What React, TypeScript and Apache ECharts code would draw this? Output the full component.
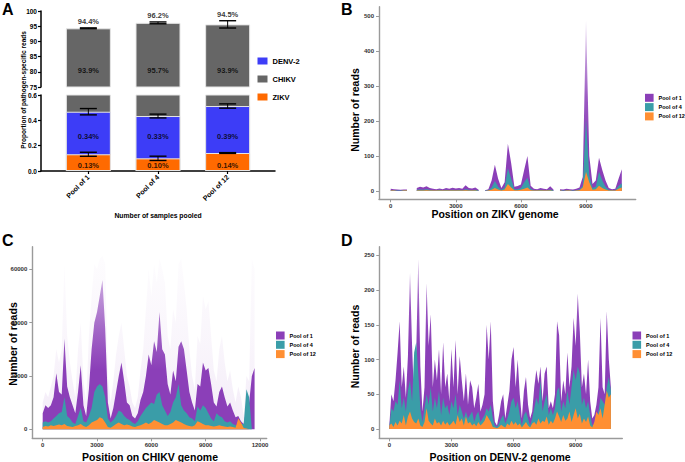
import React, { useEffect, useRef } from "react";
import * as echarts from "echarts";

// ---------- Panel A data ----------
const categories = ["Pool of 1", "Pool of 4", "Pool of 12"];
const zikvMean = [0.132, 0.1, 0.142];
const zikvErr = [0.016, 0.017, 0.003];
const denvMean = [0.336, 0.334, 0.371];
const denvTopErr = [0.025, 0.015, 0.017];
const chikvMean = [93.9, 95.7, 93.9];
const totalMean = [94.3, 96.1, 95.6];
const totalErr = [0.15, 0.3, 1.2];
const zikvLabels = ["0.13%", "0.10%", "0.14%"];
const denvLabels = ["0.34%", "0.33%", "0.39%"];
const chikvLabels = ["93.9%", "95.7%", "93.9%"];
const totalLabels = ["94.4%", "96.2%", "94.5%"];
const poolNames = ["Pool of 1", "Pool of 4", "Pool of 12"];

// ---------- Panel B (ZIKV), positions every 150 nt from 0 ----------
const zikvStep = 150;
const zikvPool1 = [6, 5, 4, 3, 4, 4, null, null, 8, 12, 10, 13, 8, 6, 5, 7, 5, 8, 6, 9, 7, 8, 6, 16, 8, 7, 10, 3, null, 2, 5, 30, 75, 35, 8, 25, 135, 80, 12, 14, 18, 60, 100, 15, 6, 5, 8, 6, 5, 13, 4, null, 5, 4, 6, 5, 4, 6, 10, 40, 490, 100, 20, 30, 95, 60, 30, 8, 5, 6, 35, 62];
const zikvPool4 = [2, 2, 1, 1, 2, 2, null, null, 3, 4, 3, 5, 3, 2, 2, 3, 2, 3, 2, 3, 2, 3, 2, 5, 3, 2, 3, 1, null, 1, 2, 10, 28, 12, 3, 10, 65, 35, 5, 5, 8, 25, 38, 6, 2, 2, 3, 2, 2, 4, 1, null, 2, 1, 2, 2, 1, 2, 4, 15, 205, 45, 8, 12, 55, 30, 12, 3, 2, 2, 14, 22];
const zikvPool12 = [1, 1, 0, 0, 1, 1, null, null, 1, 1, 1, 2, 1, 1, 1, 1, 1, 1, 1, 1, 1, 1, 1, 2, 1, 1, 1, 0, null, 0, 1, 3, 8, 4, 1, 4, 20, 10, 2, 2, 3, 6, 10, 2, 1, 1, 1, 1, 1, 1, 0, null, 1, 0, 1, 1, 0, 1, 2, 10, 55, 25, 3, 5, 15, 8, 4, 1, 1, 1, 6, 10];

// ---------- Panel C (CHIKV), positions every 150 nt from 0 ----------
const chikvStep = 150;
const chikvPool1 = [6000, 9000, 8000, 9000, 12000, 21000, 14000, 13000, 34000, 16000,
  12000, 9000, 6000, 14000, 24000, 9000, 5000, 15000, 30000, 40000,
  44000, 50000, 56000, 38000, 10000, 4000, 8000, 14000, 20000, 25000,
  18000, 10000, 9000, 5000, 4000, 6000, 11000, 14000, 20000, 28000,
  24000, 33000, 29000, 44000, 30000, 28000, 17000, 13000, 22000, 18000,
  31000, 33000, 30000, 22000, 14000, 10000, 7000, 17000, 16000, 25000,
  22000, 23000, 17000, 10000, 8500, 14000, 16000, 12000, 8500, 10000,
  7000, 4500, 5000, 3000, 2000, 8000, 10000, 20000, 23000];
const chikvPool1Peak = [10000, 14000, 12000, 16000, 20000, 30000, 25000, 30000, 62000, 35000,
  25000, 18000, 12000, 30000, 40000, 18000, 10000, 35000, 50000, 62000,
  60000, 64000, 65000, 62000, 20000, 10000, 18000, 28000, 35000, 40000,
  30000, 20000, 16000, 10000, 8000, 12000, 22000, 30000, 45000, 60000,
  50000, 62000, 55000, 64000, 60000, 55000, 35000, 30000, 45000, 40000,
  62000, 64000, 55000, 45000, 30000, 20000, 15000, 35000, 32000, 50000,
  45000, 48000, 35000, 22000, 18000, 30000, 35000, 25000, 18000, 22000,
  15000, 10000, 16000, 12000, 5000, 20000, 18000, 64000, 60000];
const chikvPool4 = [2500, 3000, 2500, 3000, 4000, 5000, 6000, 6500, 12000, 5000,
  4000, 2500, 2000, 5000, 8000, 3000, 2500, 5000, 8000, 14000,
  16000, 17000, 16000, 12000, 4000, 2500, 3500, 5000, 7000, 6500,
  5000, 4000, 3500, 2500, 2000, 3000, 5000, 6500, 8000, 9000,
  10000, 9500, 13000, 14000, 9000, 7000, 5000, 6500, 10000, 12000,
  17000, 9000, 7000, 6000, 4500, 4000, 3000, 8500, 7000, 9000,
  8000, 6000, 4000, 3000, 6000, 5000, 4500, 3000, 2500, 3000,
  2000, 1500, 1500, 2000, 2000, 15000, 12000, 0, 0];
const chikvPool12 = [800, 1200, 1000, 1500, 1200, 1500, 1800, 1500, 2000, 1200,
  1000, 800, 1200, 1500, 2000, 1200, 800, 1500, 2500, 3000,
  3500, 4500, 4000, 2500, 800, 600, 1200, 2000, 2500, 2000,
  1500, 1800, 1500, 1000, 800, 1200, 1500, 2000, 2500, 2000,
  2500, 3500, 3000, 2500, 2000, 1500, 1500, 2000, 2500, 3500,
  3000, 2500, 2000, 1500, 1200, 1000, 1500, 3000, 2500, 2000,
  1500, 1500, 1200, 1000, 1200, 1500, 1200, 1000, 800, 1000,
  800, 600, 4000, 2500, 500, 300, 0, 0, 0];

// ---------- Panel D (DENV-2), positions every 100 nt from 0 ----------
const denvStep = 100;
const denvPool1 = [5, 50, 40, 70, 110, 155, 60, 90, 45, 105,
  225, 120, 40, 110, 245, 90, 25, 60, 210, 120,
  165, 60, 100, 70, 115, 50, 125, 60, 80, 40,
  115, 60, 128, 50, 105, 70, 40, 80, 35, 70,
  60, 30, 45, 65, 25, 35, 50, 150, 100, 155,
  40, 10, 5, 20, 40, 50, 15, 35, 55, 100,
  118, 60, 100, 50, 15, 55, 75, 35, 15, 25,
  60, 85, 65, 90, 40, 80, 90, 30, 40, 30,
  50, 155, 135, 40, 70, 50, 110, 60, 90, 160,
  120, 195, 140, 60, 80, 50, 100, 40, 15, 20,
  35, 60, 160, 60, 50, 170, 100, 60];
const denvPool4 = [3, 30, 25, 40, 35, 70, 30, 45, 25, 55,
  70, 40, 110, 125, 80, 30, 10, 30, 50, 35,
  60, 25, 45, 30, 55, 20, 45, 30, 35, 20,
  40, 30, 50, 20, 35, 25, 15, 25, 15, 20,
  25, 10, 20, 25, 10, 15, 20, 30, 25, 35,
  15, 5, 3, 8, 15, 20, 8, 15, 25, 40,
  45, 30, 40, 20, 5, 20, 25, 15, 5, 15,
  30, 45, 35, 70, 25, 40, 50, 20, 30, 20,
  30, 55, 60, 25, 40, 30, 55, 35, 60, 85,
  70, 90, 80, 35, 45, 30, 40, 20, 5, 8,
  15, 25, 45, 40, 35, 60, 75, 55];
const denvPool12 = [5, 8, 3, 10, 5, 12, 8, 20, 5, 18,
  25, 15, 10, 8, 15, 5, 3, 10, 30, 12,
  8, 5, 15, 8, 10, 5, 12, 6, 10, 5,
  8, 12, 6, 20, 10, 15, 5, 18, 8, 10,
  5, 8, 4, 10, 5, 8, 12, 20, 15, 10,
  3, 2, 1, 3, 6, 4, 2, 8, 5, 12,
  6, 10, 5, 8, 2, 6, 10, 5, 2, 8,
  10, 6, 15, 8, 12, 10, 18, 6, 12, 8,
  15, 25, 18, 10, 20, 12, 15, 25, 10, 20,
  30, 15, 22, 8, 15, 10, 18, 5, 2, 10,
  25, 20, 30, 15, 35, 55, 45, 50];

const zikvTicks = [0, 3000, 6000, 9000];
const chikvTicks = [0, 3000, 6000, 9000, 12000];
const denvTicks = [0, 3000, 6000, 9000];
const zikvYTicks = [0, 100, 200, 300, 400, 500];
const chikvYTicks = [0, 20000, 40000, 60000];
const denvYTicks = [0, 50, 100, 150, 200, 250];

// ---------- styles ----------
const FONT = '"Liberation Sans", Arial, Helvetica, sans-serif';
const C_ZIKV = "#FF6A00";
const C_DENV = "#3D3DF7";
const C_CHIKV = "#666666";
const P1 = "#8B3FB8";
const P4 = "#3A9DA8";
const P12 = "#FF8F33";
const CHIKV_LABEL_Y = 80.5;
const DENV_LABEL_Y = 0.27;
const ZIKV_LABEL_Y = 0.04;

const toXY = (arr: (number | null)[], step: number) =>
  arr.map((v, i) => [i * step, v == null ? "-" : v]);

const grad = (hex: string, stops: [number, number][]) => {
  const r = parseInt(hex.slice(1, 3), 16), g = parseInt(hex.slice(3, 5), 16), b = parseInt(hex.slice(5, 7), 16);
  return {
    type: "linear", x: 0, y: 0, x2: 0, y2: 1,
    colorStops: stops.map(([o, a]) => ({ offset: o, color: `rgba(${r},${g},${b},${a})` })),
  };
};

function areaSeries(name: string, data: any[], xi: number, color: any, legendColor: string, z = 2) {
  return {
    type: "line", name, xAxisIndex: xi, yAxisIndex: xi, data,
    showSymbol: false, symbol: "none", silent: true, z,
    color: legendColor,
    itemStyle: { color: legendColor },
    lineStyle: { width: 0, color: legendColor },
    areaStyle: { color, opacity: 1 },
    connectNulls: false,
  };
}

const plain = (v: number) => String(v);

function genomeX(gi: number, min: number, max: number, ticks: number[]) {
  return {
    type: "value", gridIndex: gi, min, max,
    splitLine: { show: false },
    axisLine: { show: true, onZero: false, lineStyle: { color: "#9a9a9a", width: 1.4 } },
    axisTick: { show: true, customValues: ticks, length: 3, lineStyle: { color: "#9a9a9a", width: 1 } },
    axisLabel: { customValues: ticks, formatter: plain, fontSize: 6, fontWeight: "bold", color: "#333", margin: 4, fontFamily: FONT },
  };
}
function genomeY(gi: number, min: number, max: number, ticks: number[]) {
  return {
    type: "value", gridIndex: gi, min, max,
    splitLine: { show: false },
    axisLine: { show: true, onZero: false, lineStyle: { color: "#9a9a9a", width: 1.4 } },
    axisTick: { show: true, customValues: ticks, length: 3, lineStyle: { color: "#9a9a9a", width: 1 } },
    axisLabel: { customValues: ticks, formatter: plain, fontSize: 6, fontWeight: "bold", color: "#333", margin: 5, fontFamily: FONT },
  };
}

function errorSeries(xi: number, data: number[][]) {
  return {
    type: "custom", xAxisIndex: xi, yAxisIndex: xi, z: 5, silent: true,
    data,
    renderItem: (params: any, api: any) => {
      const x = api.value(0), c = api.value(1), e = api.value(2);
      const t = api.coord([x, c + e]);
      const b = api.coord([x, c - e]);
      const hw = 8.5;
      const st = { stroke: "#000", lineWidth: 1.4 };
      return {
        type: "group",
        children: [
          { type: "line", shape: { x1: t[0], y1: t[1], x2: b[0], y2: b[1] }, style: { stroke: "#000", lineWidth: 1 } },
          { type: "line", shape: { x1: t[0] - hw, y1: t[1], x2: t[0] + hw, y2: t[1] }, style: st },
          { type: "line", shape: { x1: b[0] - hw, y1: b[1], x2: b[0] + hw, y2: b[1] }, style: st },
        ],
      };
    },
  };
}

function labelSeries(xi: number, items: { value: number[]; name: string }[], position: string, distance = 0) {
  return {
    type: "scatter", xAxisIndex: xi, yAxisIndex: xi, z: 6, silent: true,
    symbolSize: 1, itemStyle: { color: "rgba(0,0,0,0)" },
    data: items,
    label: {
      show: true, position, distance, formatter: "{b}",
      fontSize: 7.5, fontWeight: "bold", color: "#000", fontFamily: FONT,
    },
  };
}

const barBorder = { borderColor: "#e6e6e6", borderWidth: 1 };

function barSeries(name: string, xi: number, values: number[], color: string, z: number) {
  return {
    type: "bar", name, xAxisIndex: xi, yAxisIndex: xi, barWidth: 45, barGap: "-100%", z,
    data: values.map((v, i) => [i + 1, v]),
    itemStyle: { color, ...barBorder }, silent: true,
  };
}

function buildOption() {
  const axisBlack = { show: true, onZero: false, lineStyle: { color: "#000", width: 1.5 } };
  const tickBlack = { show: true, length: 3, lineStyle: { color: "#000", width: 1.2 } };
  const lblA = { fontSize: 6.5, fontWeight: "bold", color: "#000", margin: 4, fontFamily: FONT };

  const poolLegend = (left: number, top: number) => ({
    orient: "vertical", left, top, padding: 0, icon: "rect", itemWidth: 8.6, itemHeight: 8, itemGap: 1.3,
    selectedMode: false,
    data: [
      { name: poolNames[0], itemStyle: { color: P1 } },
      { name: poolNames[1], itemStyle: { color: P4 } },
      { name: poolNames[2], itemStyle: { color: P12 } },
    ],
    textStyle: { fontSize: 5.5, fontWeight: "bold", color: "#000", fontFamily: FONT },
  });

  const title = (text: string, x: number, y: number, size: number, rot = 0) => ({
    type: "text", x, y, rotation: rot, silent: true,
    style: { text, fontSize: size, fontWeight: "bold", fill: "#000", fontFamily: FONT, textAlign: "center", textVerticalAlign: "middle" },
  });
  const letter = (text: string, x: number, y: number) => ({
    type: "text", x, y, silent: true,
    style: { text, fontSize: 16, fontWeight: "bold", fill: "#000", fontFamily: FONT },
  });

  const purpleFade = grad(P1, [[0, 0.25], [0.45, 0.85], [0.7, 1], [1, 1]]);
  const purpleFadeC = grad(P1, [[0, 0.45], [0.35, 0.8], [0.6, 1], [1, 1]]);
  const purpleFadeD = grad(P1, [[0, 0.55], [0.3, 0.9], [0.5, 1], [1, 1]]);
  const peakHaze = grad(P1, [[0, 0.015], [0.5, 0.05], [1, 0.1]]);

  const denvTop = denvMean.map((v, i) => v + zikvMean[i]);

  return {
    animation: false,
    grid: [
      { left: 41, top: 11, width: 234, height: 76 },
      { left: 41, top: 95, width: 234, height: 76 },
      { left: 379, top: 6.7, width: 256.7, height: 192.6 },
      { left: 32.3, top: 246.7, width: 234.4, height: 191.6 },
      { left: 379.3, top: 246.7, width: 243, height: 191.6 },
    ],
    xAxis: [
      { type: "value", gridIndex: 0, min: 0.32, max: 3.68, show: false },
      {
        type: "value", gridIndex: 1, min: 0.32, max: 3.68,
        splitLine: { show: false }, axisLine: axisBlack,
        axisTick: { ...tickBlack, customValues: [1, 2, 3] },
        axisLabel: {
          customValues: [1, 2, 3], rotate: 45, margin: 5,
          formatter: (v: number) => categories[Math.round(v) - 1] ?? "",
          fontSize: 7, fontWeight: "bold", color: "#000", fontFamily: FONT,
        },
      },
      genomeX(2, -540, 11290, zikvTicks),
      genomeX(3, -575, 12370, chikvTicks),
      genomeX(4, -483, 11251, denvTicks),
    ],
    yAxis: [
      { type: "value", gridIndex: 0, min: 75, max: 100, interval: 5, splitLine: { show: false }, axisLine: axisBlack, axisTick: tickBlack, axisLabel: lblA },
      {
        type: "value", gridIndex: 1, min: 0, max: 0.6, interval: 0.2, splitLine: { show: false }, axisLine: axisBlack, axisTick: tickBlack,
        axisLabel: { ...lblA, formatter: (v: number) => v.toFixed(1) },
      },
      genomeY(2, -24, 527, zikvYTicks),
      genomeY(3, -3400, 68500, chikvYTicks),
      genomeY(4, -13.4, 262.4, denvYTicks),
    ],
    legend: [
      {
        orient: "vertical", left: 257.5, top: 57, padding: 0, icon: "rect", itemWidth: 10, itemHeight: 7, itemGap: 10,
        selectedMode: false,
        data: [
          { name: "DENV-2", itemStyle: { color: C_DENV, borderWidth: 0 } },
          { name: "CHIKV", itemStyle: { color: C_CHIKV, borderWidth: 0 } },
          { name: "ZIKV", itemStyle: { color: C_ZIKV, borderWidth: 0 } },
        ],
        textStyle: { fontSize: 7.5, fontWeight: "bold", color: "#000", fontFamily: FONT },
      },
      poolLegend(645, 93.8),
      poolLegend(276, 331.5),
      poolLegend(632.5, 331.5),
    ],
    series: [
      // Panel A, lower part (0 - 0.6): overlapping bars, cumulative heights
      barSeries("CHIKV", 1, totalMean, C_CHIKV, 2),
      barSeries("DENV-2", 1, denvTop, C_DENV, 3),
      barSeries("ZIKV", 1, zikvMean, C_ZIKV, 4),
      // Panel A, upper part (75 - 100)
      barSeries("CHIKV", 0, totalMean, C_CHIKV, 2),
      errorSeries(1, zikvMean.map((v, i) => [i + 1, v, zikvErr[i]])),
      errorSeries(1, denvTop.map((v, i) => [i + 1, v, denvTopErr[i]])),
      errorSeries(0, totalMean.map((v, i) => [i + 1, v, totalErr[i]])),
      labelSeries(0, chikvLabels.map((t, i) => ({ value: [i + 1, CHIKV_LABEL_Y], name: t })), "inside"),
      labelSeries(0, totalLabels.map((t, i) => ({ value: [i + 1, totalMean[i] + totalErr[i]], name: t })), "top", 1.5),
      labelSeries(1, denvLabels.map((t, i) => ({ value: [i + 1, DENV_LABEL_Y], name: t })), "inside"),
      labelSeries(1, zikvLabels.map((t, i) => ({ value: [i + 1, ZIKV_LABEL_Y], name: t })), "inside"),

      // Panel B
      areaSeries(poolNames[0], toXY(zikvPool1, zikvStep), 2, purpleFade, P1),
      areaSeries(poolNames[1], toXY(zikvPool4, zikvStep), 2, P4, P4),
      areaSeries(poolNames[2], toXY(zikvPool12, zikvStep), 2, P12, P12),

      // Panel C
      areaSeries("Pool of 1 peaks", toXY(chikvPool1Peak, chikvStep), 3, peakHaze, P1, 1),
      areaSeries(poolNames[0], toXY(chikvPool1, chikvStep), 3, purpleFadeC, P1),
      areaSeries(poolNames[1], toXY(chikvPool4, chikvStep), 3, P4, P4),
      areaSeries(poolNames[2], toXY(chikvPool12, chikvStep), 3, P12, P12),

      // Panel D
      areaSeries(poolNames[0], toXY(denvPool1, denvStep), 4, purpleFadeD, P1),
      areaSeries(poolNames[1], toXY(denvPool4, denvStep), 4, P4, P4),
      areaSeries(poolNames[2], toXY(denvPool12, denvStep), 4, P12, P12),
    ],
    graphic: [
      letter("A", 2, 1),
      letter("B", 341, 1),
      letter("C", 2, 232),
      letter("D", 341, 232),
      title("Proportion of pathogen-specific reads", 23, 90, 6.5, Math.PI / 2),
      title("Number of samples pooled", 158, 215, 6.8),
      title("Number of reads", 355, 110, 10.5, Math.PI / 2),
      title("Position on ZIKV genome", 495, 214, 10.5),
      title("Number of reads", 13.3, 344, 10.5, Math.PI / 2),
      title("Position on CHIKV genome", 150, 456.5, 10.5),
      title("Number of reads", 355, 346.5, 10.5, Math.PI / 2),
      title("Position on DENV-2 genome", 500, 456.5, 10.5),
    ],
  };
}

export default function App() {
  const ref = useRef<HTMLDivElement>(null);
  useEffect(() => {
    if (!ref.current) return;
    const chart = echarts.init(ref.current, undefined, { renderer: "svg" });
    chart.setOption(buildOption() as any);
    return () => chart.dispose();
  }, []);
  return (
    <div
      ref={ref}
      style={{ position: "absolute", left: 0, top: 0, width: 685, height: 462, background: "#fff" }}
    />
  );
}
